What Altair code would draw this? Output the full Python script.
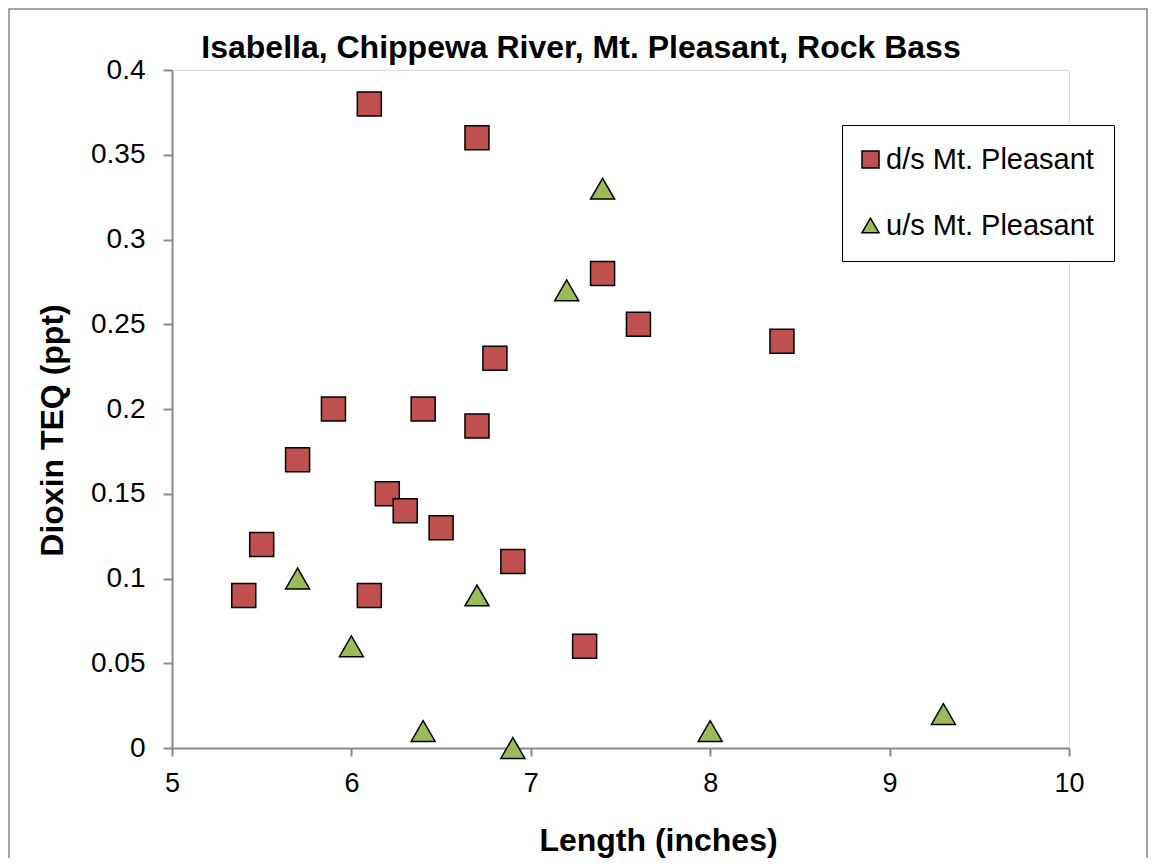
import altair as alt
import pandas as pd

TITLE = "Isabella, Chippewa River, Mt. Pleasant, Rock Bass"
X_TITLE = "Length (inches)"
Y_TITLE = "Dioxin TEQ (ppt)"
SERIES = ["d/s Mt. Pleasant", "u/s Mt. Pleasant"]
COLORS = ["#C0504D", "#9BBB59"]
SHAPES = ["square", "triangle-up"]

# d/s Mt. Pleasant (red squares)
ds_length = [6.1, 6.7, 7.4, 7.6, 8.4, 6.8, 5.9, 6.4, 6.7, 5.7, 6.2, 6.3, 6.5, 5.5, 6.9, 5.4, 6.1, 7.3]
ds_teq = [0.38, 0.36, 0.28, 0.25, 0.24, 0.23, 0.20, 0.20, 0.19, 0.17, 0.15, 0.14, 0.13, 0.12, 0.11, 0.09, 0.09, 0.06]

# u/s Mt. Pleasant (green triangles)
us_length = [7.4, 7.2, 5.7, 6.7, 6.0, 6.4, 6.9, 8.0, 9.3]
us_teq = [0.33, 0.27, 0.10, 0.09, 0.06, 0.01, 0.00, 0.01, 0.02]

x_ticks = [5, 6, 7, 8, 9, 10]
y_ticks = [0, 0.05, 0.1, 0.15, 0.2, 0.25, 0.3, 0.35, 0.4]

FONT = "Liberation Sans"
GREY = "#898989"
W, H = 897, 678

df = pd.DataFrame({
    "length": ds_length + us_length,
    "teq": ds_teq + us_teq,
    "series": [SERIES[0]] * len(ds_length) + [SERIES[1]] * len(us_length),
})

legend_kw = dict(
    title=None, orient="none", legendX=670, legendY=55,
    padding=20, rowPadding=36, symbolSize=289, symbolOffset=-6,
    labelFont=FONT, labelFontSize=29, labelColor="black", labelOffset=1, labelLimit=500,
    strokeColor="black", fillColor="white",
    symbolStrokeWidth=1.5, symbolOpacity=1,
)

points = alt.Chart(df).mark_point(
    filled=True, size=576, strokeWidth=1.5, opacity=1
).encode(
    x=alt.X("length:Q",
            scale=alt.Scale(domain=[5, 10], nice=False, zero=False),
            axis=alt.Axis(values=x_ticks, title=X_TITLE, grid=False, labelFlush=False,
                          labelFont=FONT, labelFontSize=27, labelColor="black",
                          labelPadding=14, tickSize=8, tickColor=GREY, tickWidth=2,
                          domainColor=GREY, domainWidth=2,
                          titleFont=FONT, titleFontSize=32, titleFontWeight="bold",
                          titleColor="black", titleX=486, titleY=102,
                          titleAlign="center", titleBaseline="alphabetic")),
    y=alt.Y("teq:Q",
            scale=alt.Scale(domain=[0, 0.4], nice=False),
            axis=alt.Axis(values=y_ticks, format=".2~f", title=Y_TITLE, grid=False,
                          labelFlush=False,
                          labelFont=FONT, labelFontSize=28, labelColor="black",
                          labelPadding=18, tickSize=9, tickColor=GREY, tickWidth=2,
                          domainColor=GREY, domainWidth=2,
                          titleFont=FONT, titleFontSize=32, titleFontWeight="bold",
                          titleColor="black", titleX=-110, titleY=360, titleAngle=270,
                          titleAlign="center", titleBaseline="alphabetic")),
    color=alt.Color("series:N", scale=alt.Scale(domain=SERIES, range=COLORS),
                    legend=alt.Legend(**legend_kw)),
    shape=alt.Shape("series:N", scale=alt.Scale(domain=SERIES, range=SHAPES),
                    legend=alt.Legend(**legend_kw)),
    stroke=alt.value("black"),
)

title = alt.Chart(pd.DataFrame({"t": [TITLE]})).mark_text(
    font=FONT, fontSize=32, fontWeight="bold", color="black",
    align="center", baseline="alphabetic"
).encode(x=alt.value(409), y=alt.value(-12), text="t:N")

frame = alt.Chart(pd.DataFrame({"f": [0]})).mark_rect(
    fill="transparent", stroke=GREY, strokeWidth=1.5
).encode(x=alt.value(-163), x2=alt.value(W + 78), y=alt.value(-61), y2=alt.value(H + 140))

chart = alt.layer(frame, points, title).properties(
    width=W, height=H,
    padding={"left": 164, "top": 62, "right": 79, "bottom": 110},
    autosize=alt.AutoSizeParams(type="none"),
).configure_view(strokeWidth=0).configure(background="white")

chart.save("out.html", embed_options={"renderer": "svg", "actions": False})
